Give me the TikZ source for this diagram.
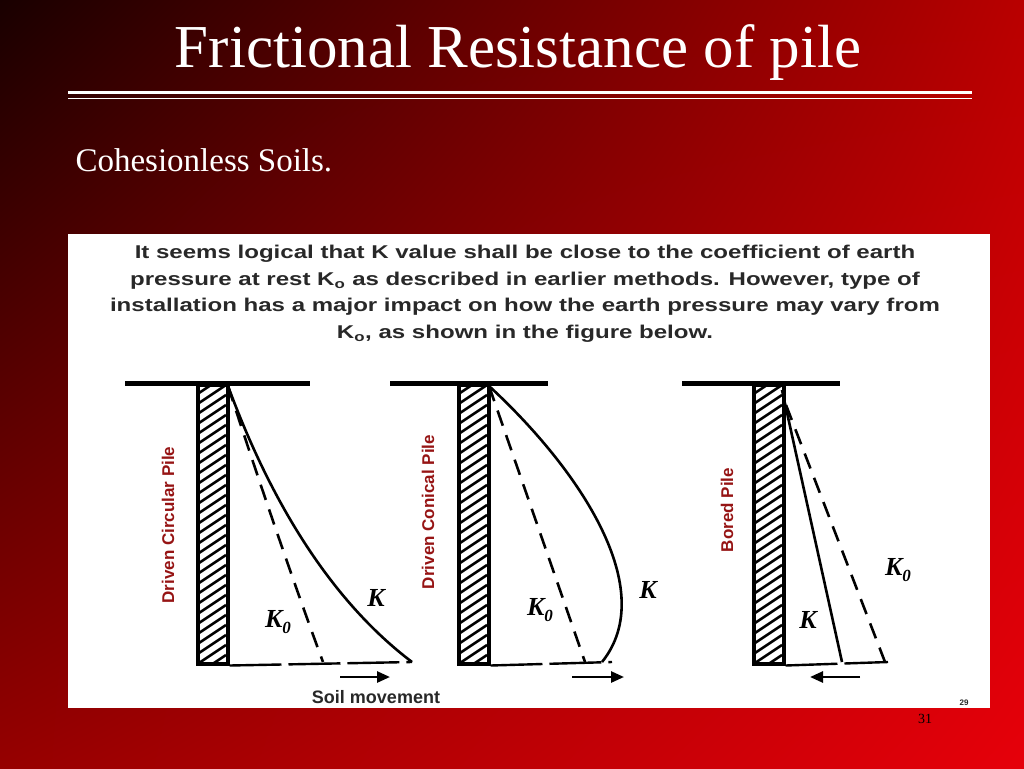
\documentclass[tikz,border=0pt]{standalone}
\usepackage{fontspec}
\setmainfont{Liberation Serif}
\newfontfamily\arialf{Liberation Sans}
\usetikzlibrary{arrows.meta,shadings}
\definecolor{labred}{RGB}{150,20,20}
\definecolor{txt}{RGB}{40,40,40}
\definecolor{bgul}{RGB}{25,0,0}
\definecolor{bgur}{RGB}{185,0,0}
\definecolor{bgll}{RGB}{150,0,0}
\definecolor{bglr}{RGB}{230,0,10}
\tikzset{
  ground/.style={line width=5pt, line cap=butt},
  pilebox/.style={draw, line width=3.5pt},
  kline/.style={line width=2.6pt},
  kzero/.style={line width=2.6pt, dash pattern=on 16pt off 10pt},
  baseline/.style={line width=2.4pt, dash pattern=on 52pt off 7pt},
  mvarrow/.style={line width=2.6pt, -{Triangle[length=13pt,width=11pt]}},
  vlab/.style={font=\arialf\bfseries\fontsize{17}{17}\selectfont, text=labred, rotate=90},
  klab/.style={font=\bfseries\itshape\fontsize{26}{26}\selectfont},
  para/.style={font=\arialf\bfseries\fontsize{18.5}{26.5}\selectfont, text=txt, align=center, xscale=1.30}
}
\newcommand{\kz}{K\raisebox{-0.25em}{\fontsize{17}{17}\selectfont 0}}
\newcommand{\mypile}[2]{% left x, name
  \begin{scope}
    \clip (#1,383) rectangle (#1+30,662);
    \foreach \i in {0,...,30} {\draw[line width=2.6pt] (#1,395+\i*10) -- (#1+30,375+\i*10);}
  \end{scope}
  \node[pilebox, minimum width=30pt, minimum height=279pt, inner sep=0pt, anchor=north west] (#2) at (#1,383) {};
}
\begin{document}
\begin{tikzpicture}[x=1pt,y=-1pt]
\useasboundingbox (0,0) rectangle (1024,768);
\shade[upper left=bgul, upper right=bgur, lower left=bgll, lower right=bglr] (0,0) rectangle (1024,768);
\node[text=white, font=\fontsize{61}{61}\selectfont] (title) at (518,53) {Frictional Resistance of pile};
\draw[white, line width=3pt] (68,92) -- (972,92);
\draw[white, line width=1pt] (68,98) -- (972,98);
\node[text=white, font=\fontsize{33}{33}\selectfont, anchor=west] (sub) at (72,160) {Cohesionless Soils.};
\fill[white] (68,234) rectangle (990,708);
\node[para] (p) at (525,294) {It seems logical that K value shall be close to the coefficient of earth\\
pressure at rest K\textsubscript{o} as described in earlier methods. However, type of\\
installation has a major impact on how the earth pressure may vary from\\
K\textsubscript{o}, as shown in the figure below.};
% pile 1
\coordinate (g1a) at (125,383); \coordinate (g1b) at (310,383);
\draw[ground] (g1a) -- (g1b);
\mypile{196}{p1}
\coordinate (t1) at (228,386); \coordinate (b1k) at (412,662); \coordinate (b1z) at (323,662);
\draw[baseline] (p1.south east) -- (b1k);
\draw[kline] (t1) .. controls (270,500) and (330,600) .. (b1k);
\draw[kzero] (t1) .. controls (265,500) and (300,600) .. (b1z);
\node[klab] (k1) at (376,598) {K};
\node[klab] (k01) at (278,622) {\kz};
\coordinate (a1s) at (340,677); \coordinate (a1e) at (390,677);
\draw[mvarrow] (a1s) -- (a1e);
\node[font=\arialf\bfseries\fontsize{18}{18}\selectfont, text=txt] (sm) at (376,697) {Soil movement};
\node[vlab] (l1) at (168,525) {Driven Circular Pile};
% pile 2
\coordinate (g2a) at (390,383); \coordinate (g2b) at (548,383);
\draw[ground] (g2a) -- (g2b);
\mypile{457}{p2}
\coordinate (t2) at (489,386); \coordinate (b2k) at (602,662); \coordinate (b2z) at (585,662);
\draw[baseline] (p2.south east) -- (612,662);
\draw[kline] (t2) .. controls (580,470) and (660,590) .. (b2k);
\draw[kzero] (t2) -- (b2z);
\node[klab] (k2) at (648,590) {K};
\node[klab] (k02) at (540,610) {\kz};
\coordinate (a2s) at (572,677); \coordinate (a2e) at (624,677);
\draw[mvarrow] (a2s) -- (a2e);
\node[vlab] (l2) at (428,512) {Driven Conical Pile};
% pile 3
\coordinate (g3a) at (682,383); \coordinate (g3b) at (840,383);
\draw[ground] (g3a) -- (g3b);
\mypile{752}{p3}
\coordinate (t3) at (782,390); \coordinate (b3k) at (842,662); \coordinate (b3z) at (885,662);
\coordinate (b3e) at (888,662);
\draw[baseline] (p3.south east) -- (b3e);
\draw[kline] (t3) -- (b3k);
\draw[kzero] (786,405) -- (b3z);
\node[klab] (k3) at (808,620) {K};
\node[klab] (k03) at (898,570) {\kz};
\coordinate (a3s) at (860,677); \coordinate (a3e) at (810,677);
\draw[mvarrow] (a3s) -- (a3e);
\node[vlab] (l3) at (727,510) {Bored Pile};
\node[text=black, font=\fontsize{14}{14}\selectfont] (pg) at (925,719) {31};
\node[text=txt, font=\arialf\bfseries\fontsize{8}{8}\selectfont] (pg2) at (964,703) {29};
\end{tikzpicture}
\end{document}
